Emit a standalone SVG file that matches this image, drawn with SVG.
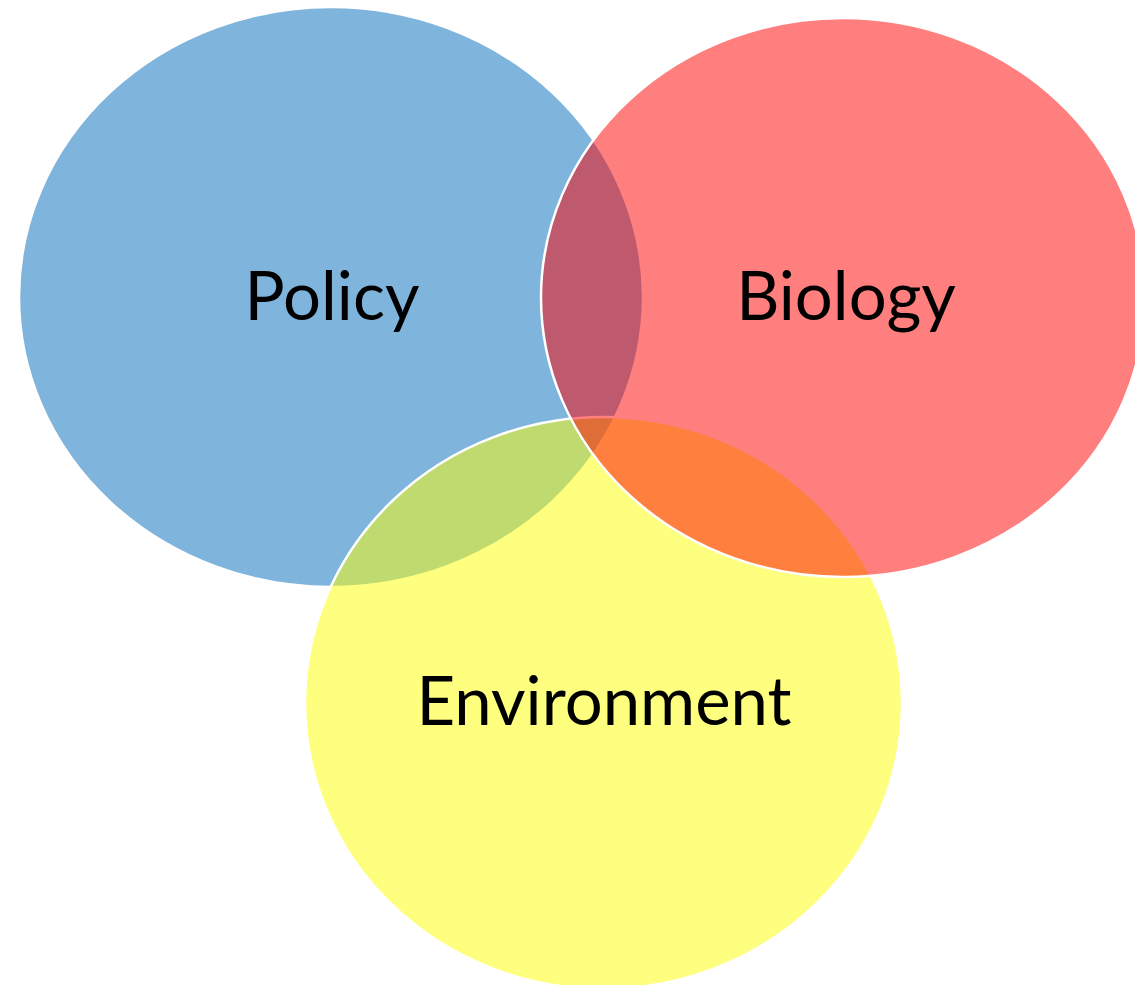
<svg xmlns="http://www.w3.org/2000/svg" width="1135" height="985" viewBox="0 0 1135 985">
<style>
.c{stroke:#fff;stroke-width:2.5}
.t{font-family:Lato,"Open Sans",sans-serif;font-size:67px;fill:#000;text-anchor:middle}
</style>
<rect width="1135" height="985" fill="#fff"/>
<g id="policy">
<ellipse class="c" cx="331" cy="297" rx="312" ry="290" fill="#7FB4DC"/>
</g>
<g id="environment">
<ellipse class="c" cx="603.5" cy="703" rx="298.5" ry="286" fill="#FFFF00" fill-opacity="0.5"/>
</g>
<g id="biology">
<ellipse class="c" cx="843" cy="297.5" rx="302" ry="279.5" fill="#FF0000" fill-opacity="0.5"/>
</g>
<g id="labels">
<text class="t" x="332" y="320">Policy</text>
<text class="t" x="846" y="320">Biology</text>
<text class="t" x="604" y="725">Environment</text>
</g>
</svg>
